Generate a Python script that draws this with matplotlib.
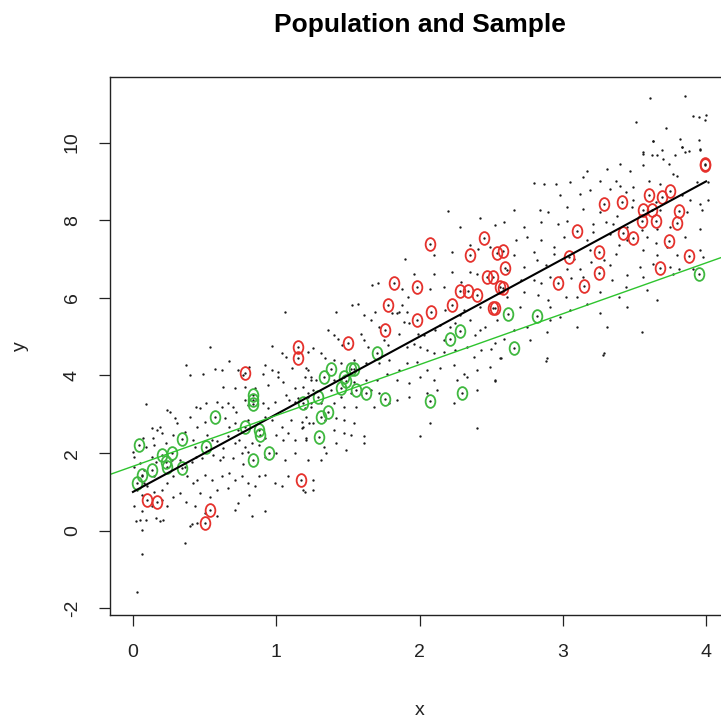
import matplotlib.pyplot as plt
import numpy as np
from matplotlib.path import Path
from matplotlib.transforms import Affine2D

plt.rcParams['font.family'] = ['Liberation Sans', 'DejaVu Sans']

# population points (x, y)
population = [
    (0.54, 4.74), (0.97, 4.77), (1.04, 4.58), (1.07, 4.47), (1.22, 4.60), (0.37, 4.28), (0.67, 4.38),
    (0.40, 4.00), (0.49, 4.04), (0.57, 4.17), (0.62, 4.13), (0.73, 4.13), (0.77, 4.00), (0.81, 4.21),
    (0.92, 4.26), (0.91, 4.04), (0.97, 4.13), (1.01, 4.09), (1.01, 3.97), (1.11, 4.18), (1.22, 4.13),
    (1.20, 3.97), (0.63, 3.71), (0.71, 3.67), (0.78, 3.71), (0.85, 3.67), (0.94, 3.75), (1.05, 3.84),
    (1.13, 3.67), (1.24, 3.88), (0.09, 3.26), (0.24, 3.11), (0.26, 3.07), (0.44, 3.18), (0.47, 3.15),
    (0.51, 3.28), (0.59, 3.32), (0.62, 3.20), (0.66, 3.28), (0.70, 3.18), (0.72, 3.07), (0.78, 3.37),
    (0.80, 3.24), (0.91, 3.28), (0.94, 3.15), (0.99, 3.32), (1.07, 3.50), (1.09, 3.37), (1.13, 3.32),
    (1.15, 3.41), (1.22, 3.45), (1.24, 3.20), (0.13, 2.64), (0.19, 2.68), (0.20, 2.51), (0.29, 2.90),
    (0.31, 2.77), (0.40, 2.94), (0.45, 2.68), (0.50, 2.81), (0.64, 2.90), (0.67, 2.68), (0.71, 2.77),
    (0.73, 2.60), (0.80, 2.85), (0.92, 2.94), (0.97, 2.85), (1.04, 2.68), (1.10, 2.85), (1.18, 2.81),
    (1.18, 2.64), (1.23, 2.77), (0.00, 2.04), (0.01, 1.91), (0.07, 2.38), (0.09, 2.17), (0.14, 2.38),
    (0.15, 2.21), (0.17, 2.60), (0.23, 2.25), (0.28, 2.47), (0.36, 2.55), (0.42, 2.34), (0.43, 2.17),
    (0.52, 2.47), (0.55, 2.34), (0.59, 2.30), (0.63, 2.13), (0.66, 2.43), (0.71, 2.25), (0.74, 2.34),
    (0.78, 2.17), (0.83, 2.25), (0.88, 2.21), (0.92, 2.38), (1.00, 2.47), (1.05, 2.34), (1.08, 2.51),
    (1.13, 2.34), (1.21, 2.38), (0.01, 1.65), (0.05, 1.74), (0.08, 1.57), (0.13, 1.91), (0.16, 1.78),
    (0.27, 1.83), (0.33, 1.83), (0.36, 1.65), (0.41, 1.78), (0.44, 1.91), (0.48, 1.87), (0.56, 1.95),
    (0.61, 1.83), (0.63, 1.91), (0.70, 1.87), (0.76, 2.00), (0.77, 1.72), (0.80, 2.04), (0.92, 1.91),
    (1.00, 2.00), (1.06, 1.83), (1.13, 2.00), (1.22, 1.83), (0.06, 1.40), (0.08, 1.23), (0.10, 1.14),
    (0.15, 1.40), (0.24, 1.23), (0.28, 1.40), (0.38, 1.40), (0.42, 1.23), (0.45, 1.31), (0.50, 1.44),
    (0.55, 1.31), (0.62, 1.40), (0.67, 1.48), (0.71, 1.31), (0.76, 1.40), (0.80, 1.23), (0.88, 1.40),
    (0.92, 1.44), (0.99, 1.23), (1.04, 1.14), (1.08, 1.40), (1.20, 1.01), (1.26, 1.31), (0.03, 1.05),
    (0.06, 0.93), (0.15, 1.01), (0.20, 1.05), (0.28, 0.88), (0.33, 0.97), (0.37, 0.75), (0.47, 0.97),
    (0.54, 0.88), (0.59, 1.05), (0.66, 1.10), (0.73, 0.71), (0.81, 0.93), (0.85, 1.14), (0.01, 0.63),
    (0.06, 0.50), (0.13, 0.63), (0.20, 0.80), (0.24, 0.63), (0.43, 0.63), (0.50, 0.45), (0.59, 0.37),
    (0.71, 0.54), (0.83, 0.37), (0.92, 0.50), (0.02, 0.24), (0.05, 0.28), (0.06, 0.03), (0.09, 0.28),
    (0.16, 0.33), (0.19, 0.24), (0.21, 0.28), (0.45, 0.20), (0.40, 0.11), (0.36, -0.31), (0.06, -0.59),
    (0.03, -1.59), (0.41, 0.18), (1.06, 5.64),
    (1.67, 6.32), (1.71, 6.37), (1.42, 5.64), (1.53, 5.81), (1.57, 5.85), (1.61, 5.55), (1.66, 5.42),
    (1.69, 5.64), (1.72, 5.25), (1.81, 5.60), (1.86, 5.64), (1.89, 5.38), (1.91, 5.64), (1.93, 5.34),
    (1.99, 5.08), (2.03, 5.04), (2.11, 5.17), (2.14, 5.30), (2.17, 4.91), (2.21, 5.25), (2.25, 5.34),
    (2.28, 5.55), (2.35, 5.42), (2.39, 5.04), (2.42, 5.17), (2.46, 5.25), (2.54, 5.42), (2.59, 4.95),
    (2.66, 5.17), (1.36, 5.17), (1.40, 5.04), (1.43, 4.95), (1.46, 4.78), (1.59, 5.08), (1.61, 4.91),
    (1.64, 4.74), (1.75, 4.91), (1.78, 4.78), (1.86, 5.08), (1.91, 4.74), (1.96, 4.82), (2.00, 4.74),
    (2.05, 4.65), (2.10, 4.57), (2.17, 4.61), (2.25, 4.65), (2.33, 4.74), (2.38, 4.48), (2.43, 4.65),
    (2.56, 4.44), (1.26, 4.70), (1.31, 4.57), (1.34, 4.44), (1.40, 4.40), (1.45, 4.31), (1.54, 4.40),
    (1.63, 4.31), (1.72, 4.31), (1.79, 4.40), (1.86, 4.14), (1.91, 4.31), (1.98, 4.35), (2.05, 4.14),
    (2.14, 4.18), (2.24, 4.27), (2.31, 4.05), (2.40, 4.14), (2.49, 4.22), (1.21, 4.18), (1.24, 3.97),
    (1.28, 3.88), (1.40, 3.88), (1.54, 3.84), (1.63, 3.88), (1.70, 3.88), (1.77, 4.05), (1.84, 3.88),
    (1.93, 3.80), (2.00, 3.97), (2.10, 3.88), (2.26, 3.88), (2.33, 3.97), (2.53, 3.88), (1.19, 3.71),
    (1.22, 3.54), (1.26, 3.62), (1.38, 3.62), (1.45, 3.45), (1.52, 3.54), (1.66, 3.62), (1.72, 3.54),
    (1.84, 3.37), (1.93, 3.45), (2.05, 3.54), (2.12, 3.62), (2.24, 3.28), (2.40, 3.62), (1.20, 3.15),
    (1.24, 3.28), (1.31, 3.28), (1.40, 3.28), (1.47, 3.20), (1.56, 3.20), (1.68, 3.20), (1.79, 3.28),
    (1.21, 2.94), (1.26, 2.77), (1.34, 2.85), (1.42, 2.90), (1.47, 2.85), (1.54, 2.77), (1.19, 2.68),
    (1.40, 2.60), (1.47, 2.51), (1.52, 2.47), (1.61, 2.43), (1.21, 2.34), (1.33, 2.17), (1.35, 2.00),
    (1.42, 2.25), (1.61, 2.25), (2.00, 2.43), (2.07, 2.77), (2.40, 2.64), (1.31, 1.83), (1.49, 2.08),
    (1.19, 1.05), (1.26, 1.05),
    (2.20, 8.23), (2.42, 8.06), (2.28, 7.82), (2.53, 7.87), (1.90, 7.01), (2.10, 7.10), (2.23, 7.18),
    (2.35, 7.35), (2.41, 7.27), (2.49, 7.31), (2.40, 6.62), (2.23, 6.67), (2.10, 6.62), (1.96, 6.62),
    (1.88, 6.24), (2.07, 6.24), (2.17, 6.28), (2.29, 6.41), (2.35, 6.67), (2.42, 5.77), (2.31, 5.68),
    (2.18, 5.68), (1.88, 5.81), (1.92, 6.02), (1.84, 5.60),
    (3.63, 10.05), (3.83, 9.88), (3.85, 9.75), (3.96, 9.84), (3.56, 9.71), (3.66, 9.67), (3.70, 9.58),
    (3.78, 9.67), (3.40, 9.45), (3.56, 9.41), (3.74, 9.45), (3.17, 9.28), (3.31, 9.32), (3.47, 9.28),
    (3.77, 9.19), (3.80, 9.15), (2.80, 8.95), (2.87, 8.94), (2.95, 8.94), (3.05, 8.98), (3.14, 9.11),
    (3.26, 9.02), (3.37, 9.02), (3.40, 8.89), (3.49, 8.85), (3.60, 9.02), (3.68, 8.94), (3.94, 8.98),
    (4.01, 8.98), (2.98, 8.64), (3.12, 8.68), (3.19, 8.77), (3.33, 8.81), (3.44, 8.72), (3.49, 8.51),
    (3.65, 8.47), (3.83, 8.64), (3.89, 8.51), (3.96, 8.42), (4.01, 8.51), (2.66, 8.25), (2.84, 8.25),
    (2.90, 8.21), (3.03, 8.34), (3.14, 8.29), (3.26, 8.21), (3.38, 8.12), (3.48, 8.34), (3.68, 8.25),
    (3.87, 8.21), (3.97, 8.25), (2.59, 7.95), (2.73, 7.82), (2.85, 7.95), (2.97, 7.91), (3.03, 7.99),
    (3.21, 7.91), (3.30, 7.95), (3.35, 7.91), (3.45, 7.82), (3.55, 7.74), (3.66, 7.78), (3.75, 7.82),
    (3.96, 7.78), (2.67, 7.48), (2.75, 7.57), (2.85, 7.48), (2.94, 7.31), (3.01, 7.57), (3.17, 7.48),
    (3.21, 7.69), (3.33, 7.65), (3.45, 7.48), (3.59, 7.57), (3.65, 7.40), (3.73, 7.31), (3.85, 7.57),
    (3.96, 7.22), (2.66, 7.10), (2.80, 7.18), (2.94, 7.14), (3.08, 7.01), (3.19, 7.22), (3.29, 6.97),
    (3.37, 7.14), (3.39, 7.35), (3.56, 7.22), (3.66, 7.10), (3.80, 7.10), (3.98, 7.05), (2.61, 6.71),
    (2.73, 6.80), (2.82, 6.97), (2.88, 6.84), (2.91, 6.54), (3.03, 6.75), (3.12, 6.75), (3.20, 6.92),
    (3.26, 6.80), (3.33, 6.84), (3.45, 6.58), (3.54, 6.80), (3.63, 6.88), (3.75, 6.80), (3.81, 6.75),
    (3.91, 6.75), (2.71, 6.45), (2.80, 6.45), (2.85, 6.37), (2.98, 6.54), (3.06, 6.50), (3.14, 6.54),
    (3.34, 6.45), (3.44, 6.28), (3.56, 6.54), (3.59, 6.20), (3.77, 6.62), (3.66, 5.94), (2.61, 6.02),
    (2.73, 6.15), (2.83, 6.07), (2.90, 5.94), (3.02, 6.02), (3.10, 6.02), (3.26, 6.15), (3.39, 6.02),
    (2.70, 5.77), (2.91, 5.77), (3.05, 5.68), (3.17, 5.85), (3.26, 5.60), (3.45, 5.77), (2.91, 5.42),
    (2.98, 5.51), (2.75, 5.25), (2.89, 5.12), (3.10, 5.25), (3.31, 5.25), (3.55, 5.12), (2.77, 4.91),
    (2.89, 4.44), (3.29, 4.57),
    (3.61, 11.14), (3.85, 11.21), (3.51, 10.52), (3.72, 10.38), (3.91, 10.69), (3.95, 10.67),
    (4.00, 10.71), (3.99, 10.57), (3.82, 10.09), (3.95, 10.07), (3.63, 10.03), (3.69, 9.82),
    (3.83, 9.88), (3.88, 9.77), (3.96, 9.82), (3.56, 9.75), (3.62, 9.68),
    (2.53, 4.84), (2.50, 4.67), (2.57, 4.46), (2.88, 4.38), (3.28, 4.52), (2.53, 3.86),
]

# sample drawn as red "O"
sample_red = [
    (0.10, 0.80), (0.17, 0.75), (0.50, 0.21), (0.54, 0.54), (0.78, 4.06), (1.15, 4.73), (1.15, 4.45),
    (1.17, 1.31), (1.50, 4.83), (1.76, 5.17), (1.78, 5.81), (1.82, 6.37), (1.98, 6.27), (1.98, 5.42),
    (2.08, 5.63), (2.07, 7.38), (2.23, 5.81), (2.28, 6.17), (2.34, 6.17), (2.40, 6.07), (2.35, 7.10),
    (2.45, 7.53), (2.47, 6.53), (2.51, 6.53), (2.51, 5.73), (2.53, 5.73), (2.54, 7.15), (2.58, 7.20),
    (2.56, 6.27), (2.58, 6.25), (2.60, 6.76), (2.97, 6.37), (3.04, 7.04), (3.10, 7.71), (3.15, 6.30),
    (3.25, 7.17), (3.25, 6.63), (3.29, 8.43), (3.41, 8.46), (3.42, 7.66), (3.49, 7.53), (3.55, 7.97),
    (3.56, 8.25), (3.60, 8.64), (3.62, 8.25), (3.65, 7.99), (3.68, 6.76), (3.69, 8.59), (3.74, 7.46),
    (3.75, 8.74), (3.80, 7.94), (3.81, 8.23), (3.88, 7.07), (3.99, 9.45), (3.99, 9.42),
]

# sample drawn as green "O"
sample_green = [
    (0.03, 1.23), (0.06, 1.44), (0.04, 2.21), (0.13, 1.57), (0.20, 1.95), (0.27, 2.00), (0.23, 1.77),
    (0.24, 1.65), (0.34, 1.62), (0.34, 2.37), (0.51, 2.16), (0.57, 2.93), (0.78, 2.67), (0.84, 3.50),
    (0.84, 3.37), (0.84, 3.26), (0.84, 1.83), (0.88, 2.60), (0.89, 2.47), (0.95, 2.00), (1.19, 3.29),
    (1.29, 3.44), (1.30, 2.42), (1.31, 2.93), (1.36, 3.06), (1.33, 3.96), (1.38, 4.16), (1.45, 3.68),
    (1.47, 3.96), (1.49, 3.86), (1.52, 4.16), (1.54, 4.16), (1.56, 3.62), (1.63, 3.55), (1.70, 4.58),
    (1.76, 3.39), (2.07, 3.34), (2.21, 4.94), (2.28, 5.14), (2.30, 3.55), (2.62, 5.58), (2.66, 4.70),
    (2.82, 5.53), (3.95, 6.61),
]

pop_intercept, pop_slope = 1.0, 2.0      # population line
fit_intercept, fit_slope = 1.66, 1.31    # line through the sample
pop_line_x = [0, 4]
x_ticks = [0, 1, 2, 3, 4]
y_ticks = [-2, 0, 2, 4, 6, 8, 10]

pop = np.array(population)
red = np.array(sample_red)
green = np.array(sample_green)

fig = plt.figure(figsize=(7.21, 7.18), dpi=100)
ax = fig.add_axes([0.1526, 0.1435, 0.8585, 0.7493])

# pch = "O" looks like a tall thin ring
oval = Path.unit_circle().transformed(Affine2D().scale(0.76, 1.0))

dot_style = dict(linestyle='none', marker='o', color='#1a1a1a', markersize=1.7, markeredgewidth=0)
ax.plot(pop[:, 0], pop[:, 1], **dot_style)
ax.plot(red[:, 0], red[:, 1], **dot_style)
ax.plot(green[:, 0], green[:, 1], **dot_style)

ax.plot(red[:, 0], red[:, 1], linestyle='none', marker=oval, markersize=9.2,
        markerfacecolor='none', markeredgecolor='#e5312c', markeredgewidth=1.3)
ax.plot(green[:, 0], green[:, 1], linestyle='none', marker=oval, markersize=9.2,
        markerfacecolor='none', markeredgecolor='#3fb83f', markeredgewidth=1.3)

lx = np.array(pop_line_x)
ax.plot(lx, pop_intercept + pop_slope * lx, color='black', linewidth=1.5)
ax.axline((0, fit_intercept), slope=fit_slope, color='#2ec42e', linewidth=1.0)

ax.set_xlim(-0.16, 4.16)
ax.set_ylim(-2.17, 11.69)
ax.set_xticks(x_ticks)
ax.set_yticks(y_ticks)
ax.set_yticklabels([str(v) for v in y_ticks], rotation=90, va='center')
ax.tick_params(direction='out', length=8, width=0.9, pad=13, labelsize=14, colors='#222222')
for s in ax.spines.values():
    s.set_linewidth(1.0)
    s.set_color('#222222')

ax.set_xlabel('x', fontsize=14, color='#222222')
ax.set_ylabel('y', fontsize=14, color='#222222')
ax.xaxis.set_label_coords(0.5, -0.177)
ax.xaxis.label.set_va('center')
ax.yaxis.set_label_coords(-0.145, 0.5)
ax.yaxis.label.set_va('center')

ax.text(0.5, 1.0967, 'Population and Sample', transform=ax.transAxes,
        ha='center', va='center', fontsize=19, fontweight='bold', color='black')

fig.savefig('out.png', dpi=100, facecolor='white')
